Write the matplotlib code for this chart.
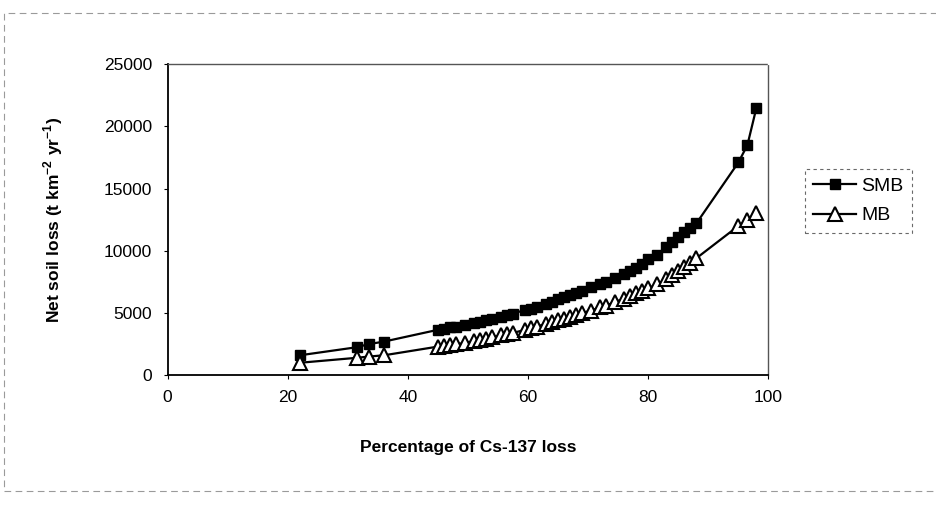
import matplotlib.pyplot as plt
from matplotlib.patches import Rectangle

plt.rcParams['font.family'] = ['Liberation Sans', 'DejaVu Sans']
plt.rcParams['mathtext.fontset'] = 'custom'
plt.rcParams['mathtext.rm'] = 'Liberation Sans:bold'
plt.rcParams['mathtext.bf'] = 'Liberation Sans:bold'
plt.rcParams['axes.unicode_minus'] = False

# percentage of Cs-137 loss at each sampling point
cs_loss = [22.0, 31.5, 33.5, 36.0,
           45.0, 46.0, 47.0, 48.0, 49.5, 51.0, 52.0, 53.0, 54.0, 55.5,
           56.5, 57.5, 59.5, 60.5, 61.5, 63.0, 64.0, 65.0, 66.0, 67.0,
           68.0, 69.0, 70.5, 72.0, 73.0, 74.5, 76.0, 77.0, 78.0, 79.0,
           80.0, 81.5, 83.0, 84.0, 85.0, 86.0, 87.0, 88.0,
           95.0, 96.5, 98.0]

# net soil loss (t km-2 yr-1), simplified mass balance model
smb = [1600, 2250, 2500, 2700,
       3650, 3750, 3850, 3900, 4050, 4200, 4300, 4450, 4550, 4700,
       4850, 4950, 5250, 5350, 5500, 5750, 5900, 6100, 6250, 6450,
       6600, 6800, 7050, 7300, 7500, 7800, 8100, 8350, 8650, 8900,
       9300, 9700, 10300, 10700, 11100, 11500, 11800, 12200,
       17100, 18500, 21500]

# net soil loss (t km-2 yr-1), mass balance model
mb = [1000, 1400, 1500, 1600,
      2300, 2350, 2420, 2480, 2600, 2750, 2820, 2900, 3050, 3200,
      3300, 3400, 3650, 3800, 3900, 4150, 4300, 4450, 4550, 4700,
      4850, 5000, 5200, 5450, 5600, 5900, 6150, 6350, 6600, 6800,
      7000, 7300, 7750, 8050, 8400, 8700, 9000, 9400,
      12000, 12500, 13000]

x_ticks = [0, 20, 40, 60, 80, 100]
y_ticks = [0, 5000, 10000, 15000, 20000, 25000]

fig = plt.figure(figsize=(9.36, 5.05), dpi=100)
ax = fig.add_axes([0.179, 0.257, 0.642, 0.616])

ax.plot(cs_loss, smb, color='black', lw=1.6, marker='s', ms=7,
        mfc='black', mec='black', label='SMB')
ax.plot(cs_loss, mb, color='black', lw=1.6, marker='^', ms=10,
        mfc='white', mec='black', mew=1.5, label='MB')

ax.set_xlim(0, 100)
ax.set_ylim(0, 25000)
ax.set_xticks(x_ticks)
ax.set_yticks(y_ticks)
ax.tick_params(labelsize=12.5, direction='out', length=3, width=0.8, pad=8)

for side in ('left', 'bottom'):
    ax.spines[side].set_linewidth(1.3)
    ax.spines[side].set_color('black')
for side in ('top', 'right'):
    ax.spines[side].set_linestyle((0, (1, 1)))
    ax.spines[side].set_color('#555555')
    ax.spines[side].set_linewidth(1.0)

ax.set_xlabel('Percentage of Cs-137 loss', fontsize=12.5, fontweight='bold',
              labelpad=25)
ax.set_ylabel('Net soil loss (t km$^{-2}$ yr$^{-1}$)', fontsize=12.5,
              fontweight='bold', labelpad=28)

leg = ax.legend(loc='center left', bbox_to_anchor=(1.06, 0.56), fontsize=14,
                frameon=True, fancybox=False, handlelength=2.2,
                handletextpad=0.25, borderpad=0.45, labelspacing=0.6,
                borderaxespad=0)
leg.get_frame().set_edgecolor('#444444')
leg.get_frame().set_linestyle((0, (3, 3)))
leg.get_frame().set_linewidth(0.8)

# faint dashed chart border
fig.patches.append(Rectangle((0.004, 0.027), 1.05, 0.948,
                             transform=fig.transFigure, fill=False,
                             edgecolor='#9a9a9a', lw=0.8,
                             linestyle=(0, (6, 4)), zorder=0))

fig.savefig('out.png', dpi=100)
